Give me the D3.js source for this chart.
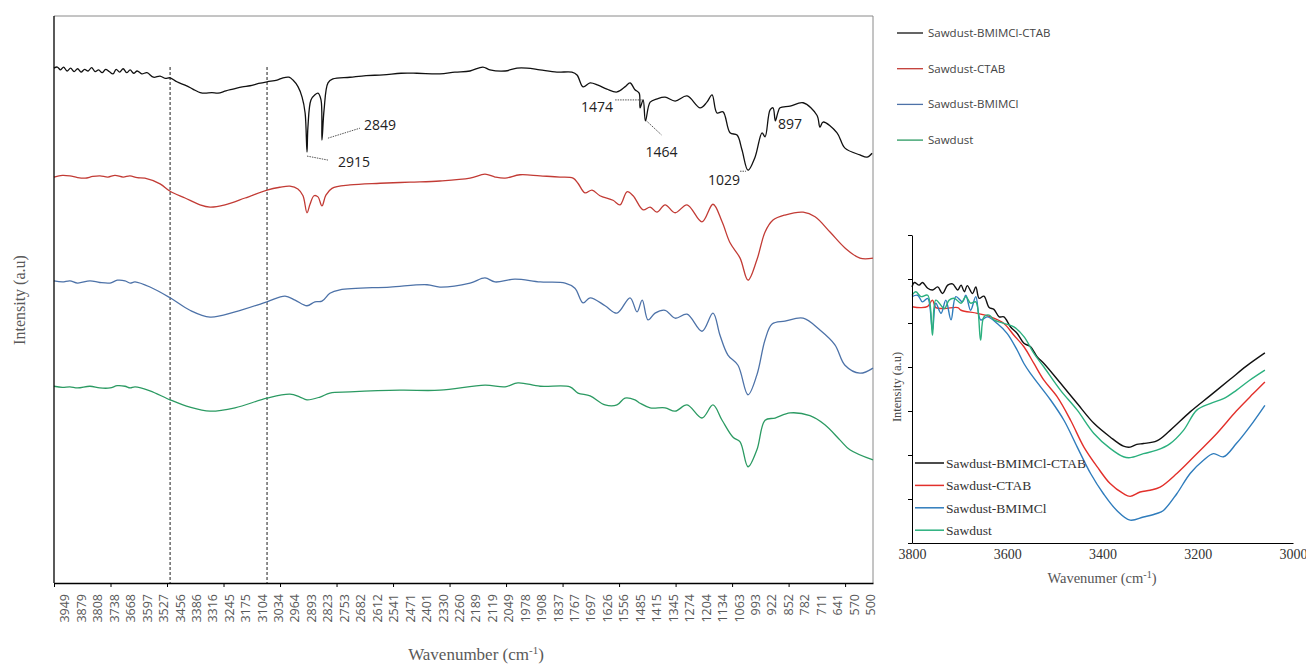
<!DOCTYPE html>
<html>
<head>
<meta charset="utf-8">
<script src="https://cdn.jsdelivr.net/npm/d3@7"></script>
<style>
  body { margin: 0; background: #fff; }
  svg { display: block; }
</style>
</head>
<body>
<script>
// ---- data ----
var seriesNames = ["Sawdust-BMIMCl-CTAB", "Sawdust-CTAB", "Sawdust-BMIMCl", "Sawdust"];
var insetNames = ["Sawdust-BMIMCl-CTAB", "Sawdust-CTAB", "Sawdust-BMIMCl", "Sawdust"];

// category labels along the main x axis (cm-1)
var xLabels = [3949, 3879, 3808, 3738, 3668, 3597, 3527, 3456, 3386, 3316, 3245, 3175, 3104, 3034,
  2964, 2893, 2823, 2753, 2682, 2612, 2541, 2471, 2401, 2330, 2260, 2189, 2119, 2049, 1978, 1908,
  1837, 1767, 1697, 1626, 1556, 1485, 1415, 1345, 1274, 1204, 1134, 1063, 993, 922, 852, 782,
  711, 641, 570, 500];

// dashed guide lines (cm-1)
var guideLines = [3499, 3084];

// main spectra: [wavenumber, intensity a.u.]
var sawdustBmimCtab = [[3996,90.8],[3982,91.0],[3968,90.5],[3955,91.0],[3940,90.3],[3925,90.8],[3910,90.2],
  [3895,90.7],[3880,90.1],[3865,90.6],[3850,90.3],[3835,90.9],[3820,90.2],[3805,90.5],[3790,90.0],
  [3775,90.6],[3760,90.2],[3743,89.8],[3730,90.6],[3715,90.1],[3700,90.7],[3685,90.0],[3670,90.5],
  [3655,89.9],[3640,90.3],[3620,89.8],[3598,90.0],[3570,89.2],[3542,89.4],[3520,89.0],[3499,89.1],
  [3470,88.4],[3435,87.8],[3410,87.3],[3392,86.9],[3370,86.5],[3350,86.4],[3320,86.5],[3294,86.4],
  [3260,86.8],[3230,87.1],[3190,87.5],[3157,87.7],[3120,88.1],[3084,88.4],[3041,88.7],[3016,89.1],
  [2990,89.2],[2973,88.7],[2951,87.5],[2934,85.7],[2921,82.9],[2913,76.0],[2909,80.4],[2896,85.2],
  [2879,86.1],[2866,86.4],[2853,85.2],[2849,78.1],[2840,83.4],[2823,88.2],[2802,88.9],[2729,89.2],
  [2660,89.5],[2587,89.6],[2510,89.9],[2442,89.9],[2344,89.8],[2280,90.1],[2215,90.3],[2160,91.0],
  [2130,90.5],[2065,90.3],[2014,90.8],[1971,90.8],[1916,90.5],[1843,90.1],[1779,90.1],[1757,89.6],
  [1731,87.5],[1701,88.2],[1667,87.8],[1629,87.1],[1586,86.6],[1552,87.5],[1530,88.2],[1509,87.0],
  [1491,86.4],[1487,83.8],[1474,85.2],[1464,81.5],[1444,84.8],[1414,85.4],[1380,85.7],[1337,85.0],
  [1286,85.9],[1230,83.8],[1201,84.8],[1179,86.1],[1158,82.9],[1132,83.1],[1102,79.4],[1072,79.0],
  [1051,76.4],[1025,72.8],[995,75.1],[965,79.4],[952,78.7],[931,83.4],[918,83.8],[908,81.5],
  [897,83.0],[888,83.8],[845,84.1],[789,84.7],[730,82.5],[717,80.4],[704,81.3],[644,79.4],
  [610,76.7],[546,75.5],[516,75.1],[494,75.8]];

var sawdustCtab = [[3996,71.6],[3960,71.9],[3928,71.8],[3895,71.5],[3863,71.4],[3830,71.7],[3799,71.8],
  [3765,71.6],[3735,71.9],[3700,71.6],[3671,71.8],[3640,71.5],[3607,71.4],[3542,70.4],[3499,69.1],
  [3435,67.9],[3371,66.7],[3328,66.3],[3264,66.7],[3178,67.9],[3084,69.3],[3029,69.8],[2986,70.0],
  [2952,69.5],[2930,68.3],[2913,65.3],[2900,66.8],[2883,68.3],[2866,68.1],[2849,66.5],[2832,68.4],
  [2806,69.6],[2729,70.2],[2600,70.5],[2472,70.7],[2344,70.9],[2215,71.4],[2151,72.1],[2108,71.6],
  [2065,71.4],[2001,72.0],[1915,71.8],[1830,71.6],[1774,71.4],[1753,70.5],[1723,68.8],[1693,69.3],
  [1659,68.3],[1603,67.5],[1573,66.7],[1543,69.0],[1517,68.3],[1474,65.8],[1444,66.3],[1415,65.4],
  [1380,66.7],[1337,65.3],[1286,66.7],[1222,63.7],[1175,66.8],[1136,63.7],[1102,60.0],[1059,57.3],
  [1025,53.4],[987,57.0],[952,61.9],[918,64.0],[867,64.9],[789,65.4],[738,64.6],[674,61.9],
  [610,59.1],[546,57.3],[490,57.3]];

var sawdustBmim = [[3996,53.3],[3960,53.1],[3928,53.3],[3895,52.9],[3842,53.3],[3800,53.0],[3756,52.9],
  [3725,53.4],[3692,53.3],[3670,52.9],[3649,53.1],[3585,52.2],[3499,50.3],[3414,48.1],[3328,46.9],
  [3221,47.8],[3084,49.6],[3007,50.6],[2964,49.9],[2913,48.9],[2879,49.6],[2849,49.7],[2815,51.1],
  [2772,51.7],[2558,52.2],[2399,52.6],[2344,52.2],[2215,52.9],[2151,53.8],[2108,53.1],[2023,53.6],
  [1915,53.1],[1808,52.9],[1766,52.0],[1731,49.4],[1701,50.3],[1637,48.9],[1586,47.6],[1530,50.3],
  [1500,47.8],[1478,49.9],[1453,46.4],[1423,47.6],[1380,48.1],[1337,46.7],[1286,47.4],[1222,44.4],
  [1175,47.6],[1145,43.7],[1111,40.2],[1068,38.4],[1025,33.2],[987,36.7],[952,42.9],[922,45.7],
  [867,46.2],[789,46.7],[717,44.6],[653,42.0],[610,38.4],[546,37.0],[490,37.9]];

var sawdust = [[3996,34.7],[3960,34.5],[3928,34.6],[3895,34.4],[3842,34.7],[3800,34.4],[3756,34.4],
  [3725,34.8],[3692,34.7],[3670,34.4],[3649,34.6],[3585,33.9],[3499,32.3],[3414,31.0],[3328,30.3],
  [3221,30.9],[3084,32.6],[2986,33.3],[2943,32.8],[2913,32.3],[2857,32.8],[2815,33.5],[2729,33.7],
  [2515,34.0],[2344,34.0],[2151,34.9],[2065,34.6],[2010,35.3],[1915,34.7],[1787,34.6],[1753,33.5],
  [1701,33.0],[1637,31.4],[1586,31.4],[1552,32.6],[1509,32.3],[1487,31.7],[1444,30.9],[1380,30.9],
  [1337,30.3],[1286,31.4],[1222,29.1],[1175,31.4],[1136,28.7],[1089,25.7],[1059,24.9],[1025,20.5],
  [987,23.5],[952,28.7],[909,29.1],[845,30.0],[760,29.5],[696,27.9],[631,25.2],[589,23.5],[490,21.7]];

// inset (O-H region) spectra
var insetBmimCtab = [[3800,5.82],[3795,5.92],[3785,5.86],[3778,5.92],[3767,5.79],[3757,5.75],[3746,5.82],
  [3736,5.67],[3725,5.86],[3715,5.89],[3704,5.75],[3697,5.86],[3690,5.71],[3684,5.85],[3673,5.67],
  [3666,5.82],[3659,5.56],[3649,5.61],[3638,5.35],[3628,5.31],[3617,5.14],[3607,5.14],[3593,4.91],
  [3579,4.76],[3565,4.54],[3551,4.46],[3537,4.23],[3523,4.08],[3488,3.63],[3453,3.17],[3418,2.72],
  [3384,2.41],[3356,2.20],[3342,2.18],[3328,2.24],[3314,2.26],[3286,2.32],[3258,2.56],[3216,2.98],
  [3174,3.35],[3132,3.72],[3098,4.02],[3059,4.32]];

var insetCtab = [[3800,5.37],[3781,5.35],[3767,5.38],[3757,5.52],[3750,5.35],[3732,5.33],[3704,5.35],
  [3697,5.29],[3663,5.22],[3635,5.14],[3607,4.99],[3586,4.72],[3565,4.46],[3544,4.08],[3523,3.70],
  [3495,3.32],[3467,2.79],[3439,2.18],[3411,1.73],[3384,1.35],[3356,1.12],[3342,1.06],[3321,1.16],
  [3300,1.20],[3279,1.27],[3244,1.58],[3202,2.03],[3160,2.49],[3119,3.00],[3084,3.39],[3059,3.66]];

var insetBmim = [[3800,5.60],[3788,5.63],[3778,5.48],[3767,5.56],[3757,4.84],[3750,5.45],[3739,5.22],
  [3729,5.52],[3718,5.07],[3708,5.60],[3694,5.48],[3687,5.63],[3677,5.29],[3666,5.60],[3656,5.07],
  [3642,5.14],[3621,4.99],[3600,4.76],[3579,4.38],[3565,4.08],[3551,3.85],[3530,3.55],[3509,3.25],
  [3481,2.79],[3453,2.18],[3425,1.58],[3398,1.12],[3370,0.74],[3342,0.52],[3314,0.59],[3286,0.67],
  [3272,0.74],[3244,1.12],[3216,1.58],[3188,1.88],[3167,2.03],[3146,1.96],[3119,2.26],[3091,2.64],
  [3059,3.13]];

var insetSawdust = [[3800,5.63],[3792,5.71],[3781,5.60],[3767,5.63],[3757,4.72],[3750,5.52],[3732,5.33],
  [3722,5.52],[3711,5.56],[3697,5.45],[3687,5.60],[3677,5.45],[3666,5.48],[3656,4.61],[3649,5.14],
  [3638,5.18],[3628,5.07],[3607,4.99],[3586,4.91],[3565,4.69],[3544,4.31],[3523,4.00],[3488,3.47],
  [3453,3.02],[3418,2.49],[3384,2.15],[3356,1.96],[3342,1.94],[3314,2.03],[3286,2.11],[3258,2.26],
  [3230,2.56],[3202,3.02],[3174,3.17],[3146,3.28],[3119,3.47],[3091,3.70],[3059,3.93]];

var insetXTicks = [3800, 3600, 3400, 3200, 3000];

// peak labels on the top spectrum
var peakLabels = ["2915", "2849", "1474", "1464", "1029", "897"];

var mainSeries = [sawdustBmimCtab, sawdustCtab, sawdustBmim, sawdust];
var insetSeries = [insetBmimCtab, insetCtab, insetBmim, insetSawdust];

var mainColors = ["#111111", "#c23b35", "#4d72a8", "#2b9a62"];
var insetColors = ["#111111", "#e2302b", "#2f7cbc", "#2bb07e"];

// ---- layout ----
var W = 1306, H = 666;
var plot = {left: 54, top: 16, right: 873, bottom: 583};
var inset = {left: 912, top: 235, right: 1293, bottom: 543};

var svg = d3.select("body").append("svg")
    .attr("width", W)
    .attr("height", H);

// ---- main chart ----
var x = d3.scaleLinear()
    .domain([3996, 490])
    .range([plot.left, plot.right]);

var y = d3.scaleLinear()
    .domain([0, 100])
    .range([plot.bottom, plot.top]);

// top and right frame (grey)
svg.append("path")
    .attr("d", "M" + plot.left + "," + plot.top + "H" + plot.right + "V" + plot.bottom)
    .attr("fill", "none")
    .attr("stroke", "#8a8a8a")
    .attr("stroke-width", 1);

// dashed guides
svg.selectAll(".guide")
    .data(guideLines)
    .enter().append("line")
    .attr("class", "guide")
    .attr("x1", function(d) { return x(d); })
    .attr("x2", function(d) { return x(d); })
    .attr("y1", y(91))
    .attr("y2", plot.bottom)
    .attr("stroke", "#444")
    .attr("stroke-width", 1.2)
    .attr("stroke-dasharray", "3,2");

var line = d3.line()
    .curve(d3.curveCatmullRom.alpha(0.5))
    .x(function(d) { return x(d[0]); })
    .y(function(d) { return y(d[1]); });

svg.selectAll(".spectrum")
    .data(mainSeries)
    .enter().append("path")
    .attr("class", "spectrum")
    .attr("d", line)
    .attr("fill", "none")
    .attr("stroke", function(d, i) { return mainColors[i]; })
    .attr("stroke-width", 1.3)
    .attr("stroke-linejoin", "round");

// left axis line (no ticks)
svg.append("line")
    .attr("x1", plot.left).attr("x2", plot.left)
    .attr("y1", plot.top).attr("y2", plot.bottom)
    .attr("stroke", "#000").attr("stroke-width", 1.3);

// bottom axis with tick marks
var tickStep = 241.9;
var tickMarks = d3.range(0, 15).map(function(k) { return 3996 - k * tickStep; });

svg.append("g")
    .attr("transform", "translate(0," + plot.bottom + ")")
    .call(d3.axisBottom(x).tickValues(tickMarks).tickSize(4).tickSizeOuter(0).tickFormat(""))
    .call(function(g) {
      g.select(".domain").attr("stroke", "#000").attr("stroke-width", 1.3);
      g.selectAll(".tick line").attr("stroke", "#000");
    });

// rotated category labels
svg.selectAll(".xlab")
    .data(xLabels)
    .enter().append("text")
    .attr("class", "xlab")
    .attr("transform", function(d) { return "translate(" + x(d) + "," + (plot.bottom + 11) + ") rotate(-90)"; })
    .attr("text-anchor", "end")
    .attr("dy", "0.35em")
    .style("font-family", "'Open Sans', sans-serif")
    .style("font-size", "12.5px")
    .attr("fill", "#595959")
    .text(function(d) { return d; });

// axis titles
var xt = svg.append("text")
    .attr("x", 476)
    .attr("y", 660)
    .attr("text-anchor", "middle")
    .style("font-family", "'Liberation Serif', 'Times New Roman', serif")
    .style("font-size", "17px")
    .attr("fill", "#595959");
xt.append("tspan").text("Wavenumber (cm");
xt.append("tspan").attr("dy", -6).style("font-size", "11px").text("-1");
xt.append("tspan").attr("dy", 6).text(")");

svg.append("text")
    .attr("transform", "translate(25,300) rotate(-90)")
    .attr("text-anchor", "middle")
    .style("font-family", "'Liberation Serif', 'Times New Roman', serif")
    .style("font-size", "16px")
    .attr("fill", "#595959")
    .text("Intensity (a.u)");

// peak annotations on the top spectrum
var peakAt = {};
sawdustBmimCtab.forEach(function(d) { peakAt[d[0]] = d[1]; });
var anno = [
  {t: peakLabels[0], w: 2913, lx1: 0, ly1: 4, lx2: 21, ly2: 8, tx: 31, ty: 10, anchor: "start"},
  {t: peakLabels[1], w: 2849, lx1: 6, ly1: -2, lx2: 38, ly2: -12, tx: 42, ty: -15, anchor: "start"},
  {t: peakLabels[2], w: 1474, lx1: -28, ly1: 0, lx2: 0, ly2: 0, tx: -30, ty: 7, anchor: "end"},
  {t: peakLabels[3], w: 1464, lx1: 1, ly1: 0, lx2: 16, ly2: 14, tx: 0, ty: 31, anchor: "start"},
  {t: peakLabels[4], w: 1025, lx1: -8, ly1: 1, lx2: -2, ly2: 1, tx: -40, ty: 10, anchor: "start"},
  {t: peakLabels[5], w: 897, lx1: 0, ly1: 0, lx2: 0, ly2: 0, tx: 0, ty: 12, anchor: "start"}
];

anno.forEach(function(a) {
  var px = x(a.w), py = y(peakAt[a.w]);
  if (a.lx1 !== a.lx2) {
    svg.append("line")
        .attr("x1", px + a.lx1).attr("y1", py + a.ly1)
        .attr("x2", px + a.lx2).attr("y2", py + a.ly2)
        .attr("stroke", "#555")
        .attr("stroke-width", 1)
        .attr("stroke-dasharray", "1.5,1");
  }
  svg.append("text")
      .attr("x", px + a.tx)
      .attr("y", py + a.ty)
      .attr("dy", "0.35em")
      .attr("text-anchor", a.anchor)
      .style("font-family", "'Open Sans', sans-serif")
      .style("font-size", "14px")
      .attr("fill", "#222")
      .text(a.t);
});

// main legend
var legend = svg.selectAll(".leg")
    .data(seriesNames)
    .enter().append("g")
    .attr("class", "leg")
    .attr("transform", function(d, i) { return "translate(897," + (33 + i * 35.7) + ")"; });

legend.append("line")
    .attr("x1", 0).attr("x2", 26)
    .attr("stroke", function(d, i) { return mainColors[i]; })
    .attr("stroke-width", 1.3);

legend.append("text")
    .attr("x", 31)
    .attr("dy", "0.35em")
    .style("font-family", "'Open Sans', sans-serif")
    .style("font-size", "11.5px")
    .attr("fill", "#444")
    .text(function(d) { return d; });

// ---- inset chart ----
var ix = d3.scaleLinear()
    .domain([3800, 3000])
    .range([inset.left, inset.right]);

var iy = d3.scaleLinear()
    .domain([0, 7])
    .range([inset.bottom, inset.top]);

var iline = d3.line()
    .curve(d3.curveCatmullRom.alpha(0.5))
    .x(function(d) { return ix(d[0]); })
    .y(function(d) { return iy(d[1]); });

svg.selectAll(".ispec")
    .data(insetSeries)
    .enter().append("path")
    .attr("class", "ispec")
    .attr("d", iline)
    .attr("fill", "none")
    .attr("stroke", function(d, i) { return insetColors[i]; })
    .attr("stroke-width", 1.4)
    .attr("stroke-linejoin", "round");

svg.append("g")
    .attr("transform", "translate(" + inset.left + ",0)")
    .call(d3.axisLeft(iy).ticks(7).tickSize(4).tickSizeOuter(0).tickFormat(""))
    .call(function(g) {
      g.select(".domain").attr("stroke", "#000");
      g.selectAll(".tick line").attr("stroke", "#000");
    });

svg.append("g")
    .attr("transform", "translate(0," + inset.bottom + ")")
    .call(d3.axisBottom(ix).tickValues(insetXTicks).tickSize(0).tickPadding(6).tickFormat(d3.format("d")))
    .call(function(g) {
      g.select(".domain").attr("stroke", "#000");
      g.selectAll("text")
          .style("font-family", "'Liberation Serif', 'Times New Roman', serif")
          .style("font-size", "14px")
          .attr("fill", "#333");
    });

var ixt = svg.append("text")
    .attr("x", 1102)
    .attr("y", 583)
    .attr("text-anchor", "middle")
    .style("font-family", "'Liberation Serif', 'Times New Roman', serif")
    .style("font-size", "14.5px")
    .attr("fill", "#555");
ixt.append("tspan").text("Wavenumer (cm");
ixt.append("tspan").attr("dy", -5).style("font-size", "10px").text("-1");
ixt.append("tspan").attr("dy", 5).text(")");

svg.append("text")
    .attr("transform", "translate(897,387) rotate(-90)")
    .attr("text-anchor", "middle")
    .attr("dy", "0.35em")
    .style("font-family", "'Liberation Serif', 'Times New Roman', serif")
    .style("font-size", "12.5px")
    .attr("fill", "#444")
    .text("Intensity (a.u)");

// inset legend
var ileg = svg.selectAll(".ileg")
    .data(insetNames)
    .enter().append("g")
    .attr("class", "ileg")
    .attr("transform", function(d, i) { return "translate(915," + (463 + i * 22.4) + ")"; });

ileg.append("line")
    .attr("x1", 0).attr("x2", 29)
    .attr("stroke", function(d, i) { return insetColors[i]; })
    .attr("stroke-width", 1.5);

ileg.append("text")
    .attr("x", 31)
    .attr("dy", "0.35em")
    .style("font-family", "'Liberation Serif', 'Times New Roman', serif")
    .style("font-size", "13.5px")
    .attr("fill", "#333")
    .text(function(d) { return d; });
</script>
</body>
</html>
